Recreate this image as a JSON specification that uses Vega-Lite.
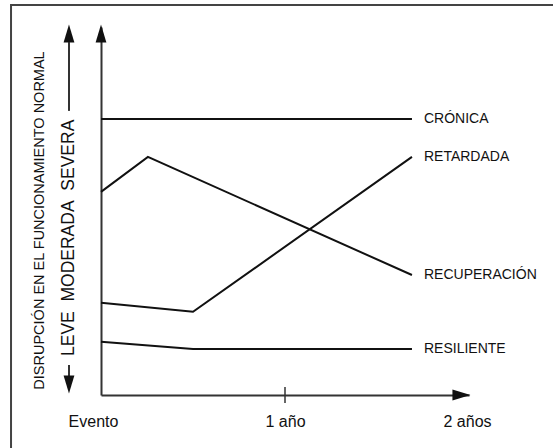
{
  "$schema": "https://vega.github.io/schema/vega-lite/v6.json",
  "width": 368,
  "height": 368,
  "autosize": {"type": "none"},
  "padding": {"left": 101, "top": 27, "right": 84, "bottom": 53},
  "background": "white",
  "data": {"values": [{}]},
  "config": {
    "view": {"stroke": null},
    "font": "Liberation Sans",
    "text": {"font": "Liberation Sans", "color": "#111"}
  },
  "datasets": {
    "series": [
      {"serie": "CRÓNICA", "t": 0, "v": 75.0},
      {"serie": "CRÓNICA", "t": 1.69, "v": 75.0},
      {"serie": "RETARDADA", "t": 0, "v": 25.1},
      {"serie": "RETARDADA", "t": 0.5, "v": 22.6},
      {"serie": "RETARDADA", "t": 1.69, "v": 64.7},
      {"serie": "RECUPERACIÓN", "t": 0, "v": 55.2},
      {"serie": "RECUPERACIÓN", "t": 0.255, "v": 64.7},
      {"serie": "RECUPERACIÓN", "t": 1.69, "v": 32.6},
      {"serie": "RESILIENTE", "t": 0, "v": 14.5},
      {"serie": "RESILIENTE", "t": 0.5, "v": 12.5},
      {"serie": "RESILIENTE", "t": 1.69, "v": 12.5}
    ]
  },
  "layer": [
    {
      "mark": {"type": "rect", "fillOpacity": 0, "stroke": "#444", "strokeWidth": 2},
      "encoding": {
        "x": {"datum": -0.489, "type": "quantitative", "scale": {"domain": [0, 2], "nice": false, "zero": false}},
        "x2": {"datum": 2.5},
        "y": {"datum": 106, "type": "quantitative", "scale": {"domain": [0, 100], "nice": false, "zero": false}},
        "y2": {"datum": -16}
      }
    },
    {
      "data": {"name": "series"},
      "mark": {"type": "line", "color": "#111", "strokeWidth": 2},
      "encoding": {
        "x": {
          "field": "t", "type": "quantitative",
          "scale": {"domain": [0, 2], "nice": false, "zero": false},
          "axis": {
            "title": null, "values": [0, 1, 2], "grid": false, "ticks": false, "tickSize": 0,
            "domain": true, "domainColor": "#333", "domainWidth": 2,
            "labelExpr": "datum.value == 0 ? 'Evento' : (datum.value == 1 ? '1 año' : '2 años')",
            "labelFontSize": 16, "labelFont": "Liberation Sans", "labelColor": "#111",
            "labelFlush": false, "labelOverlap": false, "labelBaseline": "middle", "labelPadding": 26,
            "labelOffset": {"expr": "datum.value == 0 ? -8 : (datum.value == 2 ? -2 : 0)"}
          }
        },
        "y": {
          "field": "v", "type": "quantitative",
          "scale": {"domain": [0, 100], "nice": false, "zero": false},
          "axis": {
            "title": "DISRUPCIÓN EN EL FUNCIONAMIENTO NORMAL",
            "titleFont": "Liberation Sans", "titleFontSize": 14.5, "titleFontWeight": "normal", "titleColor": "#111",
            "titleAngle": 270, "titleAlign": "center", "titleBaseline": "middle",
            "titleX": -62, "titleY": 193,
            "labels": false, "ticks": false, "grid": false,
            "domain": true, "domainColor": "#333", "domainWidth": 2
          }
        },
        "detail": {"field": "serie"}
      }
    },
    {
      "data": {"name": "series"},
      "transform": [{"filter": "datum.t == 1.69"}],
      "mark": {"type": "text", "align": "left", "baseline": "middle", "dx": 12, "fontSize": 14},
      "encoding": {
        "x": {"field": "t", "type": "quantitative", "scale": {"domain": [0, 2], "nice": false, "zero": false}},
        "y": {"field": "v", "type": "quantitative", "scale": {"domain": [0, 100], "nice": false, "zero": false}},
        "text": {"field": "serie"}
      }
    },
    {
      "mark": {"type": "rule", "color": "#333", "strokeWidth": 1.5},
      "encoding": {
        "x": {"datum": 1, "type": "quantitative", "scale": {"domain": [0, 2], "nice": false, "zero": false}},
        "y": {"datum": 2.17, "type": "quantitative", "scale": {"domain": [0, 100], "nice": false, "zero": false}},
        "y2": {"datum": -2.17}
      }
    },
    {
      "mark": {"type": "rule", "color": "#333", "strokeWidth": 2},
      "encoding": {
        "x": {"datum": -0.174, "type": "quantitative", "scale": {"domain": [0, 2], "nice": false, "zero": false}},
        "y": {"datum": 95.9, "type": "quantitative", "scale": {"domain": [0, 100], "nice": false, "zero": false}},
        "y2": {"datum": 77.2}
      }
    },
    {
      "mark": {"type": "rule", "color": "#333", "strokeWidth": 2},
      "encoding": {
        "x": {"datum": -0.174, "type": "quantitative", "scale": {"domain": [0, 2], "nice": false, "zero": false}},
        "y": {"datum": 8.15, "type": "quantitative", "scale": {"domain": [0, 100], "nice": false, "zero": false}},
        "y2": {"datum": 5.0}
      }
    },
    {
      "mark": {"type": "point", "shape": "M-0.6,1L0,-1L0.6,1Z", "size": 324, "filled": true, "opacity": 1, "color": "#111", "strokeWidth": 0},
      "encoding": {
        "x": {"datum": 0, "type": "quantitative", "scale": {"domain": [0, 2], "nice": false, "zero": false}},
        "y": {"datum": 98.2, "type": "quantitative", "scale": {"domain": [0, 100], "nice": false, "zero": false}}
      }
    },
    {
      "mark": {"type": "point", "shape": "M-0.6,1L0,-1L0.6,1Z", "size": 324, "filled": true, "opacity": 1, "color": "#111", "strokeWidth": 0},
      "encoding": {
        "x": {"datum": -0.174, "type": "quantitative", "scale": {"domain": [0, 2], "nice": false, "zero": false}},
        "y": {"datum": 98.2, "type": "quantitative", "scale": {"domain": [0, 100], "nice": false, "zero": false}}
      }
    },
    {
      "mark": {"type": "point", "shape": "M-0.6,-1L0,1L0.6,-1Z", "size": 324, "filled": true, "opacity": 1, "color": "#111", "strokeWidth": 0},
      "encoding": {
        "x": {"datum": -0.174, "type": "quantitative", "scale": {"domain": [0, 2], "nice": false, "zero": false}},
        "y": {"datum": 2.85, "type": "quantitative", "scale": {"domain": [0, 100], "nice": false, "zero": false}}
      }
    },
    {
      "mark": {"type": "point", "shape": "M-1,-0.6L1,0L-1,0.6Z", "size": 324, "filled": true, "opacity": 1, "color": "#111", "strokeWidth": 0},
      "encoding": {
        "x": {"datum": 1.959, "type": "quantitative", "scale": {"domain": [0, 2], "nice": false, "zero": false}},
        "y": {"datum": 0, "type": "quantitative", "scale": {"domain": [0, 100], "nice": false, "zero": false}}
      }
    },
    {
      "mark": {"type": "text", "angle": 270, "align": "center", "baseline": "middle", "fontSize": 17.5},
      "encoding": {
        "x": {"datum": -0.174, "type": "quantitative", "scale": {"domain": [0, 2], "nice": false, "zero": false}},
        "y": {"datum": 42.7, "type": "quantitative", "scale": {"domain": [0, 100], "nice": false, "zero": false}},
        "text": {"value": "LEVE\u00a0\u00a0MODERADA\u00a0\u00a0SEVERA"}
      }
    }
  ]
}
